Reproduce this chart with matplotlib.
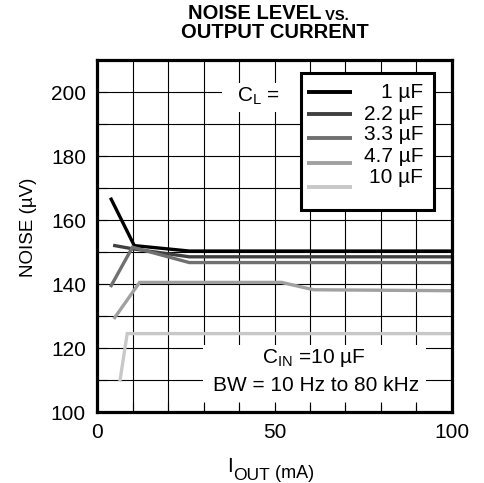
import matplotlib
matplotlib.use("Agg")
from matplotlib import pyplot as plt
from matplotlib.patches import Rectangle

plt.rcParams['font.family'] = ['Liberation Sans', 'DejaVu Sans']
plt.rcParams['mathtext.fontset'] = 'custom'
plt.rcParams['mathtext.rm'] = 'Liberation Sans'
plt.rcParams['mathtext.it'] = 'Liberation Sans'

# noise curves (I_OUT in mA, noise in uV)
labels = ['1 µF', '2.2 µF', '3.3 µF', '4.7 µF', '10 µF']
colors = ['#000000', '#404040', '#707070', '#a0a0a0', '#c8c8c8']
x_1 = [4, 10.5, 26, 100]
y_1 = [166.5, 152, 150.3, 150.3]
x_22 = [5, 10, 26, 100]
y_22 = [152, 151, 148.5, 148.5]
x_33 = [4, 10, 26, 100]
y_33 = [139.5, 151.5, 146.7, 146.7]
x_47 = [5, 12, 52, 61, 100]
y_47 = [129.5, 140.5, 140.5, 138.2, 137.9]
x_10 = [6.5, 8.5, 100]
y_10 = [110, 124.5, 124.5]
xs = [x_1, x_22, x_33, x_47, x_10]
ys = [y_1, y_22, y_33, y_47, y_10]

xticks = [0, 50, 100]
yticks = [100, 120, 140, 160, 180, 200]

fig = plt.figure(figsize=(4.85, 4.83), dpi=100)
ax = fig.add_axes([97/485, 71/483, 355/485, 352/483])
ax.set_xlim(0, 100)
ax.set_ylim(100, 210)

# grid by hand so the text boxes can hide it
for gx in range(10, 100, 10):
    ax.axvline(gx, color='black', lw=0.8, zorder=1)
for gy in range(110, 210, 10):
    ax.axhline(gy, color='black', lw=0.8, zorder=1)

ax.set_axisbelow(False)
ax.set_xticks(range(0, 101, 10))
ax.set_xticklabels([str(v) if v in xticks else '' for v in range(0, 101, 10)])
ax.set_yticks(range(100, 211, 10))
ax.set_yticklabels([str(v) if v in yticks else '' for v in range(100, 211, 10)])
ax.tick_params(direction='in', length=7, width=0.8, labelsize=15)
ax.tick_params(axis='y', pad=8)
ax.tick_params(axis='x', pad=8)
for s in ax.spines.values():
    s.set_linewidth(2.3)
    s.set_zorder(6)

for x, y, c in zip(xs, ys, colors):
    ax.plot(x, y, color=c, lw=2.4, zorder=3, solid_joinstyle='miter')

# white boxes over the grid
ax.add_patch(Rectangle((0.352, 0.852), 0.222, 0.083, transform=ax.transAxes,
                       facecolor='white', edgecolor='none', zorder=2))
ax.add_patch(Rectangle((0.299, 0.02), 0.628, 0.17, transform=ax.transAxes,
                       facecolor='white', edgecolor='none', zorder=2))

ax.text(0.395, 0.898, r'C$_{\rm L}$ =', transform=ax.transAxes, fontsize=15,
        ha='left', va='center', zorder=4)
ax.text(0.465, 0.152, r'C$_{\rm IN}$ =10 µF', transform=ax.transAxes, fontsize=15,
        ha='left', va='center', zorder=4)
ax.text(0.326, 0.075, 'BW = 10 Hz to 80 kHz', transform=ax.transAxes, fontsize=15,
        ha='left', va='center', zorder=4)

# legend box drawn by hand (labels right aligned like the original)
ax.add_patch(Rectangle((0.574, 0.574), 0.375, 0.388, transform=ax.transAxes,
                       facecolor='white', edgecolor='black', lw=2.2, zorder=5))
handle_y = [0.910, 0.848, 0.779, 0.708, 0.640]
text_y = [0.892, 0.830, 0.773, 0.711, 0.650]
for hy, ty, c, lab in zip(handle_y, text_y, colors, labels):
    ax.plot([0.591, 0.718], [hy, hy], color=c, lw=2.8, transform=ax.transAxes,
            zorder=6, solid_capstyle='butt')
    ax.text(0.919, ty, lab, transform=ax.transAxes, fontsize=15,
            ha='right', va='baseline', zorder=6)

ax.set_ylabel('NOISE (µV)', fontsize=13.5)
ax.yaxis.set_label_coords(-0.169, 0.524)

# title with small "VS."
t1 = fig.text(188/485, 1 - 19/483, 'NOISE LEVEL', fontsize=14.5, fontweight='bold',
              ha='left', va='baseline')
ax.annotate(' VS.', xy=(1, 0), xycoords=t1, fontsize=10.5, fontweight='bold',
            ha='left', va='bottom', annotation_clip=False)
fig.text(275/485, 1 - 38/483, 'OUTPUT CURRENT', fontsize=14.5, fontweight='bold',
         ha='center', va='baseline')

# x label with subscript
xl = fig.text(227/485, 1 - 472/483, 'I', fontsize=15, ha='left', va='baseline')
xsub = ax.annotate('OUT', xy=(1, 0), xycoords=xl, xytext=(0, -3), textcoords='offset points',
                   fontsize=12.5, ha='left', va='baseline', annotation_clip=False)
ax.annotate(' (mA)', xy=(1, 0), xycoords=xsub, xytext=(0, 3.5), textcoords='offset points',
            fontsize=13, ha='left', va='baseline', annotation_clip=False)

fig.savefig('out.png', dpi=100)
